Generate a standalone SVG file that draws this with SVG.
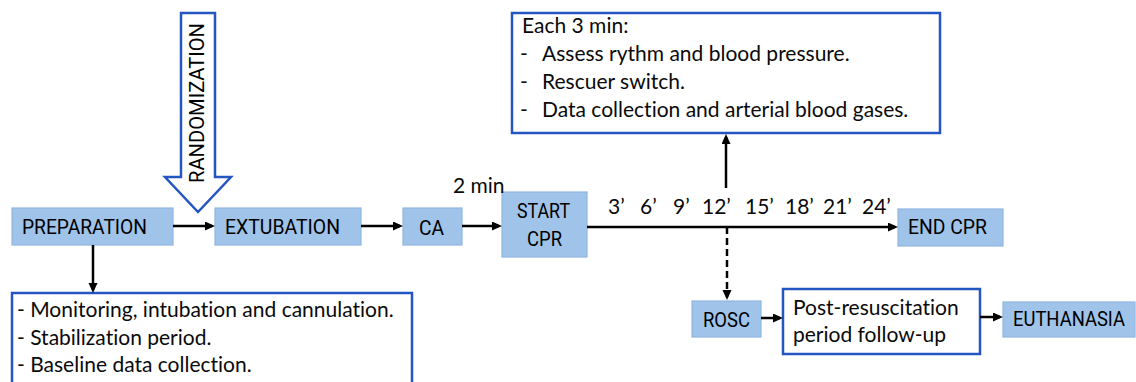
<svg xmlns="http://www.w3.org/2000/svg" width="1136" height="382" viewBox="0 0 1136 382">
<defs>
<style>
.node{fill:#a0c3e9;stroke:#8fb6e2;stroke-width:1.2}
.box{fill:#ffffff;stroke:#2456c2;stroke-width:2.5}
.t{font-family:Lato,"Open Sans",sans-serif;font-size:21px;fill:#0a0a0a;font-variant-ligatures:none}
.n{font-family:Roboto,"Open Sans",sans-serif;font-size:20px;fill:#000}
.c{stroke:#000;stroke-width:2.5;fill:none}
.dash{stroke-dasharray:7,4}
</style>
<marker id="ah" markerUnits="userSpaceOnUse" markerWidth="12" markerHeight="10" refX="7" refY="4.5" orient="auto">
<path d="M0,0 L10,4.5 L0,9 z" fill="#000"/>
</marker>
</defs>
<rect width="1136" height="382" fill="#fff"/>

<g id="randomization">
<path d="M181,13 L215,13 L215,177 L231,177 L198,212 L165,177 L181,177 Z" fill="#fff" stroke="#2456c2" stroke-width="2.5" stroke-linejoin="miter"/>
<text class="t n" transform="translate(204,103) rotate(-90)" text-anchor="middle" textLength="160" lengthAdjust="spacingAndGlyphs">RANDOMIZATION</text>
</g>

<g id="preparation">
<rect class="node" x="12" y="208" width="161" height="37"/>
<text class="t n" x="22" y="234" textLength="125" lengthAdjust="spacingAndGlyphs">PREPARATION</text>
</g>
<g id="extubation">
<rect class="node" x="215" y="208" width="146" height="37"/>
<text class="t n" x="225" y="234" textLength="115" lengthAdjust="spacingAndGlyphs">EXTUBATION</text>
</g>
<g id="ca">
<rect class="node" x="403" y="208" width="59" height="37"/>
<text class="t n" x="419" y="235" textLength="25" lengthAdjust="spacingAndGlyphs">CA</text>
</g>
<g id="start-cpr">
<rect class="node" x="502" y="192" width="85" height="65"/>
<text class="t n" x="517" y="218" textLength="53" lengthAdjust="spacingAndGlyphs">START</text>
<text class="t n" x="527" y="246" textLength="35" lengthAdjust="spacingAndGlyphs">CPR</text>
</g>
<g id="end-cpr">
<rect class="node" x="898" y="209" width="105" height="37"/>
<text class="t n" x="908" y="234" textLength="79" lengthAdjust="spacingAndGlyphs">END CPR</text>
</g>
<g id="rosc">
<rect class="node" x="692" y="301" width="69" height="36"/>
<text class="t n" x="703" y="327" textLength="47" lengthAdjust="spacingAndGlyphs">ROSC</text>
</g>
<g id="euthanasia">
<rect class="node" x="1003" y="302" width="132" height="35"/>
<text class="t n" x="1013" y="326" textLength="112" lengthAdjust="spacingAndGlyphs">EUTHANASIA</text>
</g>

<g id="each-3-min">
<rect class="box" x="512" y="13" width="428" height="120"/>
<text class="t" x="522" y="33">Each 3 min:</text>
<text class="t" x="520" y="61">-</text>
<text class="t" x="542" y="61">Assess rythm and blood pressure.</text>
<text class="t" x="520" y="89">-</text>
<text class="t" x="542" y="89">Rescuer switch.</text>
<text class="t" x="520" y="117">-</text>
<text class="t" x="542" y="117">Data collection and arterial blood gases.</text>
</g>

<g id="preparation-details">
<rect class="box" x="12" y="293" width="400" height="100"/>
<text class="t" x="17" y="317">- Monitoring, intubation and cannulation.</text>
<text class="t" x="17" y="345">- Stabilization period.</text>
<text class="t" x="17" y="372">- Baseline data collection.</text>
</g>

<g id="post-resuscitation">
<rect class="box" x="783" y="289" width="197" height="65"/>
<text class="t" x="793" y="315">Post-resuscitation</text>
<text class="t" x="793" y="342">period follow-up</text>
</g>

<g id="labels">
<text class="t" x="453" y="193">2 min</text>
<text class="t" x="608" y="214">3’</text>
<text class="t" x="640" y="214">6’</text>
<text class="t" x="673" y="214">9’</text>
<text class="t" x="702" y="214">12’</text>
<text class="t" x="745" y="214">15’</text>
<text class="t" x="785" y="214">18’</text>
<text class="t" x="823" y="214">21’</text>
<text class="t" x="862" y="214">24’</text>
</g>

<g id="connectors">
<line class="c" x1="173" y1="226" x2="212" y2="226" marker-end="url(#ah)"/>
<line class="c" x1="361" y1="226" x2="400" y2="226" marker-end="url(#ah)"/>
<line class="c" x1="462" y1="226" x2="499" y2="226" marker-end="url(#ah)"/>
<line class="c" x1="587" y1="227" x2="895" y2="227" marker-end="url(#ah)"/>
<line class="c" x1="726" y1="188" x2="726" y2="137" marker-end="url(#ah)"/>
<line class="c dash" x1="727" y1="227" x2="727" y2="297" marker-end="url(#ah)"/>
<line class="c" x1="761" y1="318" x2="780" y2="318" marker-end="url(#ah)"/>
<line class="c" x1="980" y1="317" x2="1000" y2="317" marker-end="url(#ah)"/>
<line class="c" x1="93" y1="245" x2="93" y2="290" marker-end="url(#ah)"/>
</g>
</svg>
